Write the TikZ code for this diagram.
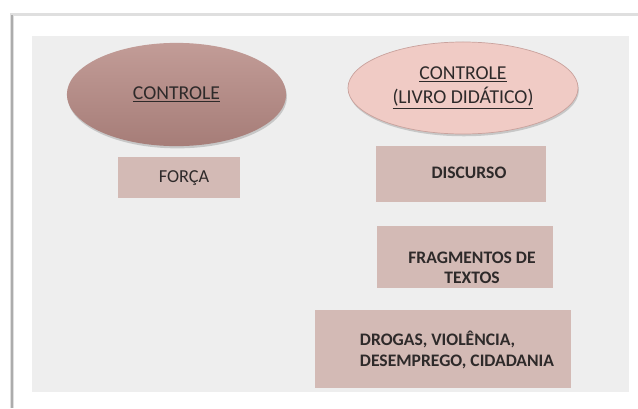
\documentclass[tikz,border=0pt]{standalone}
\usepackage{fontspec}
\setmainfont{Carlito}
\usepackage{xcolor}
\usepackage{tikz}
\usetikzlibrary{shapes,positioning,shadows,calc}

\definecolor{panelgray}{HTML}{EEEEEE}
\definecolor{darkrosetop}{HTML}{C29C97}
\definecolor{darkrosebot}{HTML}{A67D78}
\definecolor{lightrose}{HTML}{F0CBC5}
\definecolor{lightroseedge}{HTML}{C9A29D}
\definecolor{boxrose}{HTML}{D3BAB5}
\definecolor{textdark}{HTML}{2E2A2A}

\begin{document}
\begin{tikzpicture}[x=0.025cm, y=-0.025cm,
    oval/.style={ellipse, inner sep=0pt, drop shadow={opacity=0.35, shadow xshift=0.6pt, shadow yshift=-1.6pt}},
    tag/.style={rectangle, fill=boxrose, inner sep=0pt, anchor=north west},
    tagtext/.style={font=\fontsize{12.5}{14.3}\selectfont\bfseries, text=textdark}]
    \useasboundingbox (0,0) rectangle (638,408);

    % Page frame and panel
    \draw [gray!25, line width=2.5pt] (12,408) -- (12,14.5) -- (638,14.5);
    \draw [gray!65, line width=0.9pt] (12,408) -- (12,15);
    \fill [panelgray] (32,36) rectangle (629,392);

    % Left column
    \node [oval, top color=darkrosetop, bottom color=darkrosebot, minimum width=5.48cm, minimum height=2.58cm,
           text=textdark, font=\fontsize{14}{17}\selectfont] (ctrl) at (176.5,94.5) {\underline{CONTROLE}};
    \node [tag, minimum width=3.03cm, minimum height=1.03cm] (forca) at (118,157) {};
    \node [text=textdark, font=\fontsize{13}{15}\selectfont] (forcatxt) at (184,178) {FORÇA};

    % Right column
    \node [oval, fill=lightrose, draw=lightroseedge, line width=0.5pt, minimum width=5.75cm, minimum height=2.3cm,
           text=textdark, align=center, font=\fontsize{14}{17}\selectfont] (ctrlivro) at (463,88)
          {\underline{CONTROLE}\\\underline{(LIVRO DIDÁTICO)}};
    \node [tag, minimum width=4.25cm, minimum height=1.4cm] (disc) at (376,146) {};
    \node [tagtext] (disctxt) at (469,173) {DISCURSO};
    \node [tag, minimum width=4.38cm, minimum height=1.53cm] (frag) at (377,226) {};
    \node [tagtext, align=center] (fragtxt) at (472,268) {FRAGMENTOS DE\\TEXTOS};
    \node [tag, minimum width=6.38cm, minimum height=1.95cm] (temas) at (315,310) {};
    \node [tagtext, align=left, anchor=west] (temastxt) at (355,350) {DROGAS, VIOLÊNCIA,\\DESEMPREGO, CIDADANIA};
\end{tikzpicture}
\end{document}
